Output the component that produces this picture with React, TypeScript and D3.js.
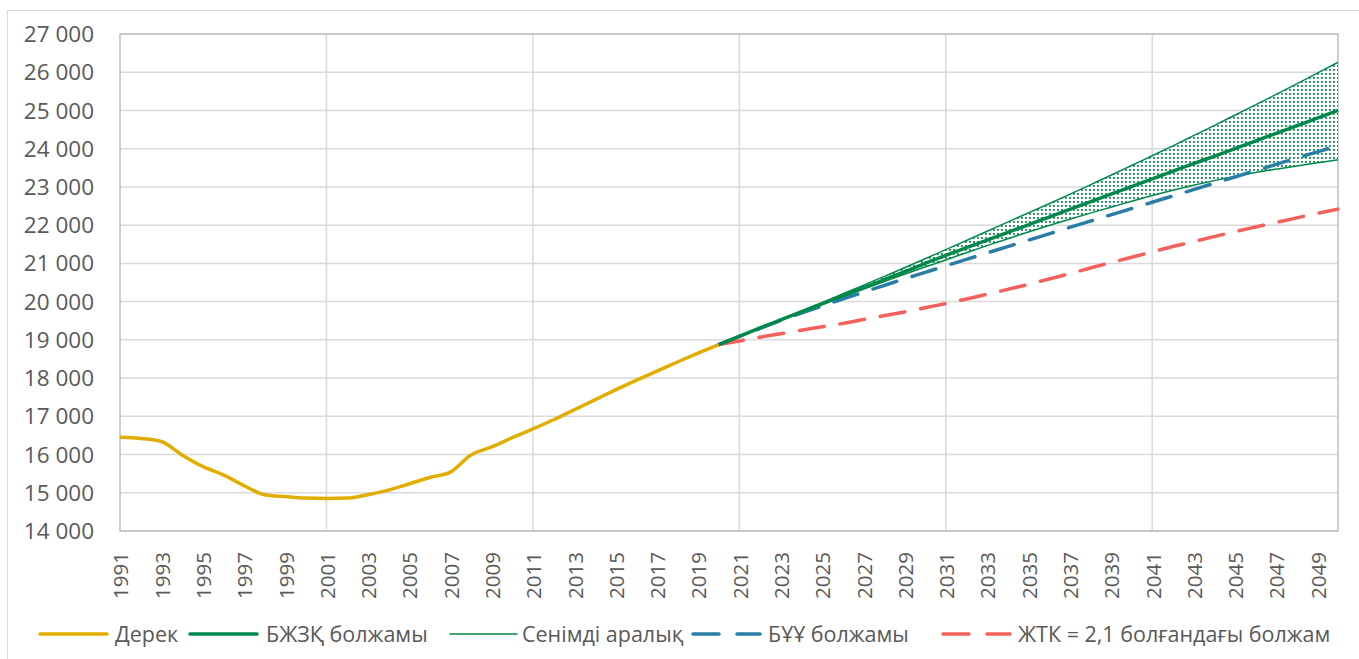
import React from "react";
import * as d3 from "d3";

const actualYears = d3.range(1991, 2021);
const actualValues = [
  16450, 16420, 16340, 15990, 15690, 15470, 15190, 14950, 14900, 14860,
  14850, 14860, 14950, 15070, 15230, 15400, 15540, 15990, 16200, 16440,
  16670, 16910, 17170, 17430, 17690, 17940, 18180, 18420, 18650, 18875,
];

const forecastYears = d3.range(2020, 2051);
const mainForecast = [
  18875, 19090, 19310, 19520, 19730, 19940, 20150, 20360, 20570, 20780,
  21000, 21210, 21410, 21610, 21810, 22010, 22210, 22410, 22610, 22810,
  23010, 23210, 23410, 23610, 23800, 24000, 24200, 24400, 24600, 24800, 25000,
];
const upperCI = [
  18875, 19090, 19310, 19530, 19750, 19975, 20200, 20425, 20655, 20885,
  21120, 21360, 21600, 21840, 22080, 22320, 22560, 22805, 23055, 23305,
  23560, 23815, 24075, 24340, 24605, 24875, 25145, 25420, 25695, 25975, 26260,
];
const lowerCI = [
  18875, 19090, 19300, 19510, 19720, 19925, 20125, 20325, 20520, 20715,
  20905, 21090, 21280, 21465, 21645, 21820, 21990, 22155, 22315, 22470,
  22625, 22775, 22915, 23045, 23165, 23275, 23375, 23465, 23550, 23630, 23710,
];
const unForecast = [
  18875, 19090, 19300, 19505, 19700, 19885, 20065, 20245, 20420, 20595,
  20765, 20935, 21105, 21272, 21440, 21607, 21773, 21940, 22105, 22270,
  22435, 22600, 22765, 22930, 23095, 23260, 23425, 23590, 23755, 23918, 24080,
];
const tfrForecast = [
  18875, 18970, 19070, 19160, 19250, 19340, 19430, 19530, 19630, 19730,
  19840, 19950, 20070, 20190, 20320, 20450, 20590, 20730, 20880, 21020,
  21160, 21300, 21440, 21570, 21700, 21830, 21950, 22070, 22190, 22310, 22420,
];

const yTicks = d3.range(14000, 27001, 1000);
const xTickYears = d3.range(1991, 2051, 2);
const gridYears = [2001, 2011, 2021, 2031, 2041];

const legendLabels = [
  "Дерек",
  "БЖЗҚ болжамы",
  "Сенімді аралық",
  "БҰҰ болжамы",
  "ЖТК = 2,1 болғандағы болжам",
];

const C_YELLOW = "#E1AE00";
const C_GREEN = "#00894B";
const C_BLUE = "#2A7DA6";
const C_RED = "#F4615C";
const FONT = "'Open Sans', 'Noto Sans', sans-serif";

export default function App() {
  const W = 1359;
  const H = 659;
  const left = 120, right = 1338, top = 34, bottom = 531;
  const x = d3.scaleLinear().domain([1991, 2050]).range([left, right]);
  const y = d3.scaleLinear().domain([14000, 27000]).range([bottom, top]);

  const line = d3
    .line<[number, number]>()
    .x((d) => x(d[0]))
    .y((d) => y(d[1]))
    .curve(d3.curveMonotoneX);

  const zip = (ys: number[], vs: number[]) =>
    ys.map((yr, i) => [yr, vs[i]] as [number, number]);

  const area = d3
    .area<number>()
    .x((_, i) => x(forecastYears[i]))
    .y0((_, i) => y(lowerCI[i]))
    .y1((_, i) => y(upperCI[i]))
    .curve(d3.curveMonotoneX);

  const legendItems = [
    { x: 40, color: C_YELLOW, w: 3.5, dash: "", textX: 115 },
    { x: 190, color: C_GREEN, w: 3.5, dash: "", textX: 266 },
    { x: 450, color: C_GREEN, w: 1.5, dash: "", textX: 522 },
    { x: 693, color: C_BLUE, w: 3.5, dash: "26 18", textX: 768 },
    { x: 943, color: C_RED, w: 3.5, dash: "26 18", textX: 1018 },
  ];
  const legendY = 634;

  return (
    <svg width={W} height={H} style={{ display: "block", position: "absolute", left: 0, top: 0 }}>
      <defs>
        <pattern id="dots" width="4" height="4" patternUnits="userSpaceOnUse">
          <rect width="4" height="4" fill="#ffffff" />
          <rect x="1" y="1" width="1.8" height="1.8" fill={C_GREEN} />
        </pattern>
      </defs>
      <rect x={0} y={0} width={W} height={H} fill="#fff" />
      <rect x={7.5} y={10.5} width={W + 10} height={H + 10} fill="none" stroke="#d9d9d9" strokeWidth={1} />

      {yTicks.map((t) => (
        <line key={"gy" + t} x1={left} x2={right} y1={y(t)} y2={y(t)} stroke="#d9d9d9" strokeWidth={1.5} />
      ))}
      {gridYears.map((g) => (
        <line key={"gx" + g} x1={x(g)} x2={x(g)} y1={top} y2={bottom} stroke="#d9d9d9" strokeWidth={1.5} />
      ))}
      <rect x={left} y={top} width={right - left} height={bottom - top} fill="none" stroke="#bfbfbf" strokeWidth={1.5} />

      {yTicks.map((t) => (
        <text
          key={"yl" + t}
          x={94}
          y={y(t)}
          dy="0.36em"
          textAnchor="end"
          fontFamily={FONT}
          fontSize={22.5}
          fill="#595959"
        >
          {d3.format(",")(t).replace(",", " ")}
        </text>
      ))}
      {xTickYears.map((yr) => (
        <text
          key={"xl" + yr}
          transform={`translate(${x(yr) + 1},${552}) rotate(-90)`}
          textAnchor="end"
          dy="0.36em"
          fontFamily={FONT}
          fontSize={20.5}
          fill="#595959"
        >
          {yr}
        </text>
      ))}

      <path d={area(upperCI) || ""} fill="url(#dots)" />
      <path d={line(zip(forecastYears, upperCI)) || ""} fill="none" stroke={C_GREEN} strokeWidth={1.5} />
      <path d={line(zip(forecastYears, lowerCI)) || ""} fill="none" stroke={C_GREEN} strokeWidth={1.5} />

      <path d={line(zip(forecastYears, tfrForecast)) || ""} fill="none" stroke={C_RED} strokeWidth={3.5} strokeDasharray="25 16" strokeLinecap="round" />
      <path d={line(zip(forecastYears, unForecast)) || ""} fill="none" stroke={C_BLUE} strokeWidth={3.5} strokeDasharray="25 16" strokeLinecap="round" />
      <path d={line(zip(forecastYears, mainForecast)) || ""} fill="none" stroke={C_GREEN} strokeWidth={3.5} />
      <path d={line(zip(actualYears, actualValues)) || ""} fill="none" stroke={C_YELLOW} strokeWidth={3.5} />

      {legendItems.map((it, i) => (
        <g key={"lg" + i}>
          <line
            x1={it.x}
            x2={it.x + 67}
            y1={legendY}
            y2={legendY}
            stroke={it.color}
            strokeWidth={it.w}
            strokeDasharray={it.dash || undefined}
            strokeLinecap="round"
          />
          <text x={it.textX} y={legendY} dy="0.36em" fontFamily={FONT} fontSize={21.5} fill="#595959">
            {legendLabels[i]}
          </text>
        </g>
      ))}
    </svg>
  );
}
